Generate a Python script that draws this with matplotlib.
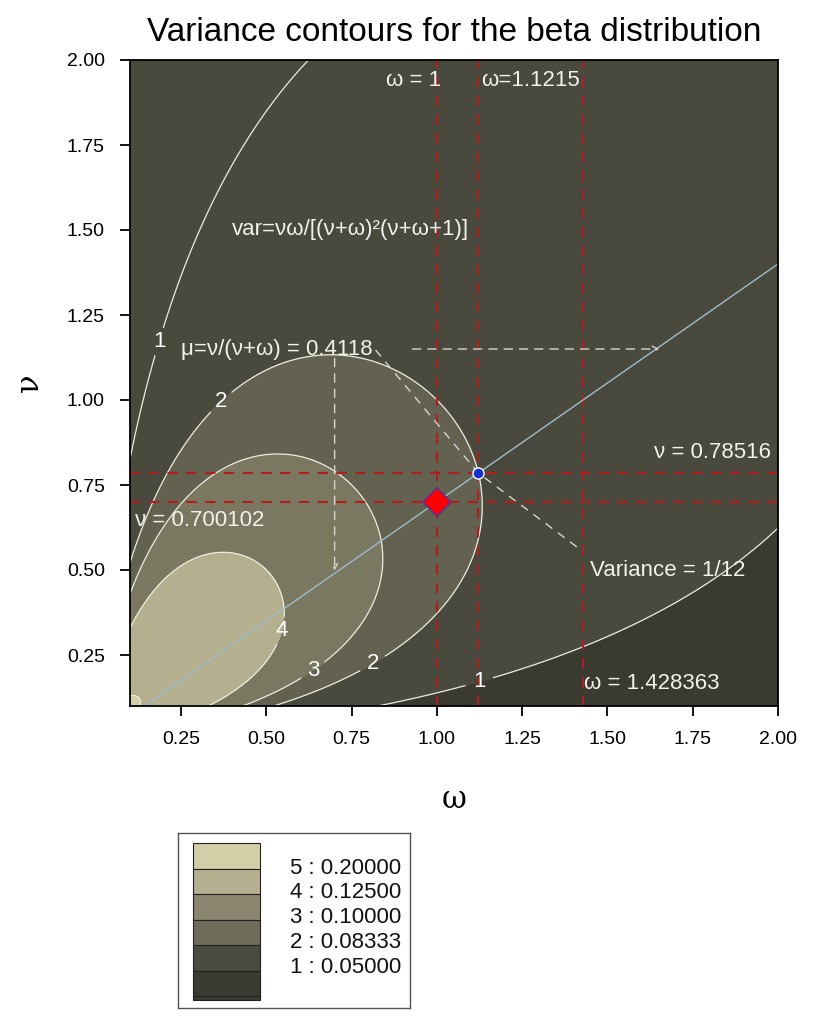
# Variance contours for the beta distribution
import numpy as np
import matplotlib.pyplot as plt
from matplotlib.patches import Rectangle

plt.rcParams['font.family'] = ['Liberation Sans', 'DejaVu Sans']

# contour levels and shading (dark -> light)
levels = [0.0, 0.05, 1 / 12, 0.10, 0.125, 0.20, 0.26]
fill_colors = ['#3b3a31', '#4a493e', '#63614f', '#7b7862', '#b3af8f', '#d4d0ac']
line_levels = [0.05, 1 / 12, 0.10, 0.125, 0.20]
line_names = {0.05: '1', 1 / 12: '2', 0.10: '3', 0.125: '4', 0.20: '5'}
legend_labels = ['5 : 0.20000', '4 : 0.12500', '3 : 0.10000', '2 : 0.08333', '1 : 0.05000']
legend_colors = ['#d3cfa9', '#b4b08f', '#8a8670', '#6f6d5a', '#4b4a3f', '#3c3b32']

# reference values
omega_lines = [1.0, 1.1215, 1.428363]
nu_lines = [0.700102, 0.78516]
pt_diamond = (1.0, 0.700102)
pt_circle = (1.1215, 0.78516)
ray_slope = 0.700102
diag_w = [0.82, 1.1215, 1.426]
diag_n = [1.147, 0.78516, 0.556]

# label positions for the contour numbers
label_pos = [(0.19, 1.17), (1.13, 0.15), (0.38, 0.98), (0.82, 0.21), (0.64, 0.20), (0.55, 0.32)]

w = np.linspace(0.1, 2.0, 500)
n = np.linspace(0.1, 2.0, 500)
W, N = np.meshgrid(w, n)
V = N * W / ((N + W) ** 2 * (N + W + 1))

# the original only darkens the low-variance corner below the diagonal
V_fill = V.copy()
V_fill[(V < 0.05) & (N > W)] = 0.06

fig = plt.figure(figsize=(8.15, 10.23), dpi=100)
ax = fig.add_axes([130 / 815, 1 - 706 / 1023, 648 / 815, 646 / 1023])

ax.contourf(W, N, V_fill, levels=levels, colors=fill_colors)
cs = ax.contour(W, N, V, levels=line_levels, colors='#ecebdf', linewidths=0.9)
labs = ax.clabel(cs, fmt=line_names, manual=label_pos, fontsize=16, colors='white',
                 inline=True, inline_spacing=8)
for t in labs:
    t.set_rotation(0)

# red dashed reference lines
for x in omega_lines:
    ax.axvline(x, color='#b01e1e', ls=(0, (5, 4)), lw=1.5)
for y in nu_lines:
    ax.axhline(y, color='#b01e1e', ls=(0, (5, 4)), lw=1.5)

# mean line through the origin
xs = np.array([0.1, 2.0])
ax.plot(xs, ray_slope * xs, color='#9fbccb', lw=1.0)

# white dashed guides
ax.plot(diag_w, diag_n, color='#d8d6cc', ls=(0, (6, 5)), lw=1.0)
ax.annotate('', xy=(0.70, 0.49), xytext=(0.70, 1.13),
            arrowprops=dict(arrowstyle='->', color='#d8d6cc', lw=1.0, ls=(0, (6, 5))))
ax.annotate('', xy=(1.66, 1.15), xytext=(0.92, 1.15),
            arrowprops=dict(arrowstyle='->', color='#d8d6cc', lw=1.0, ls=(0, (6, 5))))

ax.plot(*pt_diamond, marker='D', ms=14, mfc='#ff0000', mec='#6a2a8a', mew=1.2, zorder=5)
ax.plot(*pt_circle, marker='o', ms=8, mfc='#1530d0', mec='white', mew=1.0, zorder=5)

txt = dict(color='#f2f1ea', fontsize=16)
ax.text(0.85, 1.94, 'ω = 1', va='center', **txt)
ax.text(1.13, 1.94, 'ω=1.1215', va='center', **txt)
ax.text(0.40, 1.50, 'var=νω/[(ν+ω)²(ν+ω+1)]', va='center', **txt)
ax.text(0.25, 1.15, 'μ=ν/(ν+ω) = 0.4118', va='center', **txt)
ax.text(1.635, 0.845, 'ν = 0.78516', va='center', **txt)
ax.text(0.115, 0.645, 'ν = 0.700102', va='center', **txt)
ax.text(1.45, 0.50, 'Variance = 1/12', va='center', **txt)
ax.text(1.43, 0.165, 'ω = 1.428363', va='center', **txt)

ax.set_xlim(0.1, 2.0)
ax.set_ylim(0.1, 2.0)
ticks = [0.25, 0.50, 0.75, 1.00, 1.25, 1.50, 1.75, 2.00]
ax.set_xticks(ticks)
ax.set_yticks(ticks)
ax.set_xticklabels([f'{t:.2f}' for t in ticks])
ax.set_yticklabels([f'{t:.2f}' for t in ticks])
ax.tick_params(direction='out', length=7, width=1.3, labelsize=14, pad=11)
for s in ax.spines.values():
    s.set_linewidth(1.3)

ax.set_title('Variance contours for the beta distribution', fontsize=24, pad=14)
ax.set_xlabel('ω', fontsize=22, family='DejaVu Serif', labelpad=26)
ax.set_ylabel('ν', fontsize=22, family='DejaVu Serif', labelpad=16)

# legend box below the plot
lax = fig.add_axes([178 / 815, 1 - 1008 / 1023, 232 / 815, 175 / 1023])
lax.set_xlim(0, 232)
lax.set_ylim(175, 0)
lax.set_xticks([])
lax.set_yticks([])
for s in lax.spines.values():
    s.set_color('#555555')
    s.set_linewidth(1.0)
row_h = 25.5
for i, c in enumerate(legend_colors):
    lax.add_patch(Rectangle((15, 10 + i * row_h), 67, row_h, fc=c, ec='#222222', lw=0.8))
lax.add_patch(Rectangle((15, 10 + 6 * row_h), 67, 4, fc='#3c3b32', ec='#222222', lw=0.8))
for i, lab in enumerate(legend_labels):
    lax.text(112, 35 + i * 24.8, lab, fontsize=16, va='center', color='#111111')

fig.savefig('out.png', dpi=100)
